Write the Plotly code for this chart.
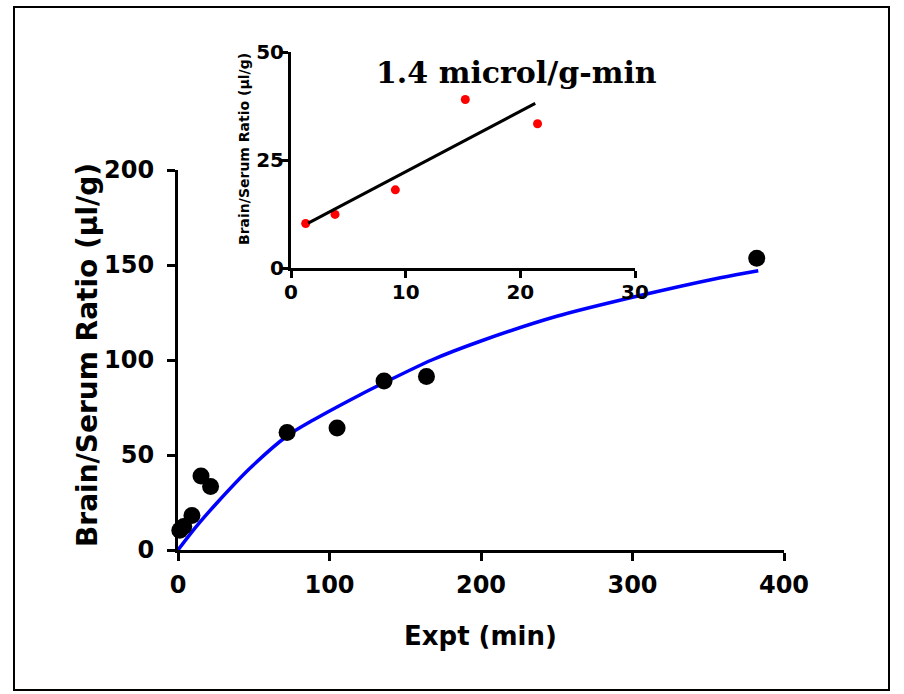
import plotly.graph_objects as go

# ---- data ----
expt_min = [1.2, 3.8, 9.2, 15.2, 21.5, 72, 105, 136, 164, 382]
ratio = [10.4, 12.4, 18.1, 39.0, 33.4, 61.8, 64.2, 89.0, 91.3, 153.5]

# fitted curve
fit_x = [0, 12, 25.5, 47.5, 72, 89.3, 120, 136, 167.5, 200, 250, 300, 358, 383]
fit_y = [0, 12.3, 24.6, 43.0, 60.0, 68.4, 81.6, 88, 100, 110, 123, 133, 143.3, 147]

inset_x = [1.28, 3.84, 9.1, 15.2, 21.5]
inset_y = [10.3, 12.4, 18.1, 39.0, 33.4]
inset_line_x = [1.5, 21.3]
inset_line_y = [10.4, 38.1]

main_xticks = [0, 100, 200, 300, 400]
main_yticks = [0, 50, 100, 150, 200]
inset_xticks = [0, 10, 20, 30]
inset_yticks = [0, 25, 50]

W, H = 904, 694
def px_x(p):
    return p / W
def px_y(p):
    return 1 - p / H

SANS = "DejaVu Sans"

fig = go.Figure()

fig.add_trace(go.Scatter(x=fit_x, y=fit_y, mode="lines",
                         line=dict(color="#0000ff", width=3.5, shape="spline", smoothing=0.8),
                         xaxis="x", yaxis="y", showlegend=False, hoverinfo="skip"))
fig.add_trace(go.Scatter(x=expt_min, y=ratio, mode="markers", marker=dict(color="black", size=17),
                         xaxis="x", yaxis="y", showlegend=False, cliponaxis=False))

fig.add_trace(go.Scatter(x=inset_x, y=inset_y, mode="markers", marker=dict(color="#ff0000", size=9),
                         xaxis="x2", yaxis="y2", showlegend=False, cliponaxis=False))
fig.add_trace(go.Scatter(x=inset_line_x, y=inset_line_y, mode="lines", line=dict(color="black", width=3),
                         xaxis="x2", yaxis="y2", showlegend=False))

axis_common = dict(showgrid=False, zeroline=False, showline=True, linecolor="black",
                   ticks="outside", tickcolor="black", automargin=False)

fig.update_layout(
    width=W, height=H, autosize=False,
    margin=dict(l=0, r=0, t=0, b=0, pad=0),
    paper_bgcolor="white", plot_bgcolor="rgba(0,0,0,0)",
    xaxis=dict(**axis_common, domain=[px_x(178), px_x(784)], range=[0, 400],
               tickvals=main_xticks, linewidth=3, tickwidth=3, ticklen=8, ticklabelstandoff=3,
               tickfont=dict(family=SANS, size=24, color="black", weight="bold"),
               anchor="y"),
    yaxis=dict(**axis_common, domain=[px_y(550), px_y(170)], range=[0, 200],
               tickvals=main_yticks, linewidth=3, tickwidth=3, ticklen=8, ticklabelstandoff=8,
               tickfont=dict(family=SANS, size=24, color="black", weight="bold"),
               anchor="x"),
    xaxis2=dict(**axis_common, domain=[px_x(291), px_x(635)], range=[0, 30],
                tickvals=inset_xticks, linewidth=3, tickwidth=3, ticklen=7, ticklabelstandoff=-3,
                tickfont=dict(family=SANS, size=20, color="black", weight="bold"),
                anchor="y2"),
    yaxis2=dict(**axis_common, domain=[px_y(268), px_y(52)], range=[0, 50],
                tickvals=inset_yticks, linewidth=3, tickwidth=3, ticklen=7, ticklabelstandoff=-7,
                tickfont=dict(family=SANS, size=20, color="black", weight="bold"),
                anchor="x2"),
    shapes=[dict(type="rect", xref="paper", yref="paper",
                 x0=px_x(14), x1=px_x(889), y0=px_y(690), y1=px_y(7),
                 line=dict(color="black", width=2), fillcolor="rgba(0,0,0,0)")],
    annotations=[
        dict(text="Expt (min)", xref="paper", yref="paper", x=px_x(481), y=px_y(636),
             showarrow=False, xanchor="center", yanchor="middle",
             font=dict(family=SANS, size=26, color="black", weight="bold")),
        dict(text="Brain/Serum Ratio (µl/g)", xref="paper", yref="paper", x=px_x(87), y=px_y(355),
             showarrow=False, xanchor="center", yanchor="middle", textangle=-90,
             font=dict(family=SANS, size=28, color="black", weight="bold")),
        dict(text="Brain/Serum Ratio (µl/g)", xref="paper", yref="paper", x=px_x(244), y=px_y(149),
             showarrow=False, xanchor="center", yanchor="middle", textangle=-90,
             font=dict(family=SANS, size=14, color="black", weight="bold")),
        dict(text="1.4 microl/g-min", xref="paper", yref="paper", x=px_x(516), y=px_y(72),
             showarrow=False, xanchor="center", yanchor="middle",
             font=dict(family="DejaVu Serif", size=30, color="black", weight="bold")),
    ],
)

fig.write_html("out.html", config={"displayModeBar": False},
               post_script="document.body.style.margin='0px';document.body.style.overflow='hidden';")
